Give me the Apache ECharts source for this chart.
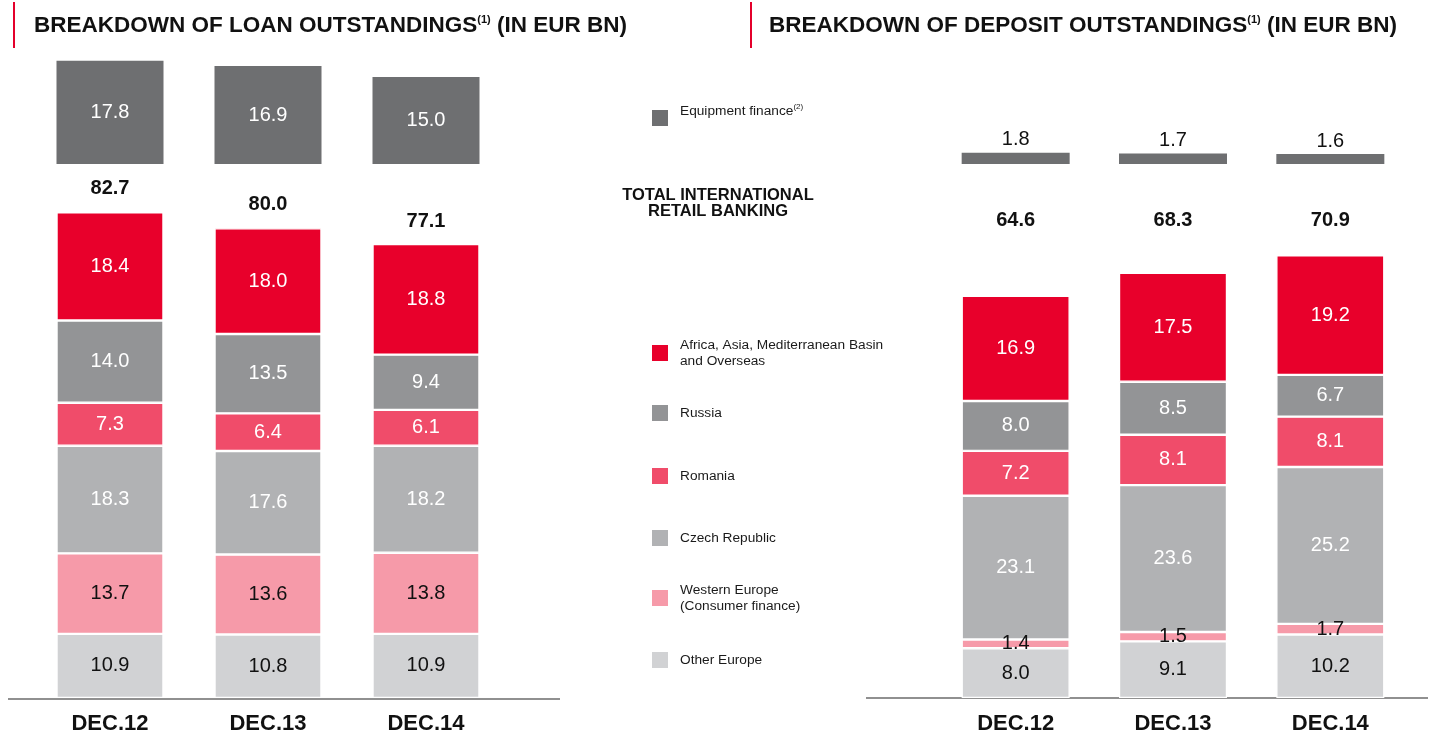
<!DOCTYPE html>
<html>
<head>
<meta charset="utf-8">
<title>Loan and deposit outstandings</title>
<script src="https://cdn.jsdelivr.net/npm/echarts@6/dist/echarts.min.js"></script>
<style>
  html, body { margin: 0; padding: 0; background: #fff; }
  #chart { width: 1436px; height: 735px; }
</style>
</head>
<body>
<div id="chart"></div>
<script>
// data (EUR bn)
const years = ['DEC.12', 'DEC.13', 'DEC.14']

const loanOtherEurope = [10.9, 10.8, 10.9]
const loanWesternEurope = [13.7, 13.6, 13.8]
const loanCzech = [18.3, 17.6, 18.2]
const loanRomania = [7.3, 6.4, 6.1]
const loanRussia = [14.0, 13.5, 9.4]
const loanAfrica = [18.4, 18.0, 18.8]
const loanTotal = [82.7, 80.0, 77.1]
const loanEquipment = [17.8, 16.9, 15.0]

const depOtherEurope = [8.0, 9.1, 10.2]
const depWesternEurope = [1.4, 1.5, 1.7]
const depCzech = [23.1, 23.6, 25.2]
const depRomania = [7.2, 8.1, 8.1]
const depRussia = [8.0, 8.5, 6.7]
const depAfrica = [16.9, 17.5, 19.2]
const depTotal = [64.6, 68.3, 70.9]
const depEquipment = [1.8, 1.7, 1.6]

// series names / colours
const NAME_EF = 'Equipment finance'
const NAME_AF = 'Africa, Asia, Mediterranean Basin\nand Overseas'
const NAME_RU = 'Russia'
const NAME_RO = 'Romania'
const NAME_CZ = 'Czech Republic'
const NAME_WE = 'Western Europe\n(Consumer finance)'
const NAME_OE = 'Other Europe'

const colors = {
  [NAME_EF]: '#6e6f71',
  [NAME_AF]: '#e8002b',
  [NAME_RU]: '#939496',
  [NAME_RO]: '#f04c6a',
  [NAME_CZ]: '#b1b2b4',
  [NAME_WE]: '#f69aa9',
  [NAME_OE]: '#d1d2d4'
}
const labelDark = [NAME_WE, NAME_OE]

const FONT = 'Liberation Sans, Arial, sans-serif'

const chart = echarts.init(document.getElementById('chart'))

// one stacked segment
const stackSeries = (name, data, grid, stack, width) => ({
  name,
  type: 'bar',
  stack,
  xAxisIndex: grid,
  yAxisIndex: grid,
  barWidth: width,
  data,
  itemStyle: { color: colors[name], borderColor: '#fff', borderWidth: 1.2 },
  label: {
    show: true,
    position: 'inside',
    fontSize: 20,
    color: labelDark.includes(name) ? '#111' : '#fff',
    formatter: p => p.value.toFixed(1)
  },
  emphasis: { disabled: true }
})

// invisible bar of the printed total, only for its label
const totalSeries = (data, grid, distance) => ({
  name: 'total',
  type: 'bar',
  xAxisIndex: grid,
  yAxisIndex: grid,
  barWidth: 107,
  barGap: '-100%',
  z: 1,
  silent: true,
  data,
  itemStyle: { color: 'rgba(0,0,0,0)' },
  label: {
    show: true,
    position: 'top',
    distance,
    fontSize: 20,
    fontWeight: 'bold',
    color: '#111',
    formatter: p => p.value.toFixed(1)
  }
})

const grids = [
  { left: 31, right: 931, top: 48, bottom: 571 },   // loans - equipment finance
  { left: 31, right: 931, top: 110, bottom: 36 },   // loans - retail banking
  { left: 937, right: 27, top: 102, bottom: 571 },  // deposits - equipment finance
  { left: 937, right: 27, top: 200, bottom: 37 }    // deposits - retail banking
]
const yMax = [20, 100, 10, 80]

const xAxes = grids.map((g, i) => ({
  type: 'category',
  gridIndex: i,
  data: years,
  axisLine: { show: false },
  axisTick: { show: false },
  axisLabel: {
    show: i === 1 || i === 3,
    margin: 15,
    fontSize: 22,
    fontWeight: 'bold',
    color: '#111'
  }
}))
// deposit totals sit on one line in the original: a top category axis
xAxes.push({
  type: 'category',
  gridIndex: 3,
  position: 'top',
  offset: -30,
  data: depTotal.map(v => v.toFixed(1)),
  axisLine: { show: false },
  axisTick: { show: false },
  axisLabel: { margin: 0, fontSize: 20, fontWeight: 'bold', color: '#111' }
})

const yAxes = grids.map((g, i) => ({
  type: 'value',
  gridIndex: i,
  min: 0,
  max: yMax[i],
  show: false,
  splitLine: { show: false }
}))

const series = [
  // loans
  {
    ...stackSeries(NAME_EF, loanEquipment, 0, 'loanEF', 107),
    label: { show: true, position: 'inside', fontSize: 20, color: '#fff', formatter: p => p.value.toFixed(1) },
    itemStyle: { color: colors[NAME_EF] }
  },
  stackSeries(NAME_OE, loanOtherEurope, 1, 'loan', 107),
  stackSeries(NAME_WE, loanWesternEurope, 1, 'loan', 107),
  stackSeries(NAME_CZ, loanCzech, 1, 'loan', 107),
  stackSeries(NAME_RO, loanRomania, 1, 'loan', 107),
  stackSeries(NAME_RU, loanRussia, 1, 'loan', 107),
  stackSeries(NAME_AF, loanAfrica, 1, 'loan', 107),
  totalSeries(loanTotal, 1, 13),
  // deposits
  {
    ...stackSeries(NAME_EF, depEquipment, 2, 'depEF', 108),
    label: { show: true, position: 'top', distance: 3, fontSize: 20, color: '#111', formatter: p => p.value.toFixed(1) },
    itemStyle: { color: colors[NAME_EF] }
  },
  stackSeries(NAME_OE, depOtherEurope, 3, 'dep', 108),
  stackSeries(NAME_WE, depWesternEurope, 3, 'dep', 108),
  stackSeries(NAME_CZ, depCzech, 3, 'dep', 108),
  stackSeries(NAME_RO, depRomania, 3, 'dep', 108),
  stackSeries(NAME_RU, depRussia, 3, 'dep', 108),
  stackSeries(NAME_AF, depAfrica, 3, 'dep', 108)
]

// legend, one block per item so the spacing can follow the original
const legendItems = [
  { name: NAME_EF, top: 98, padding: [0, 0, 14, 7] },
  { name: NAME_AF, top: 332 },
  { name: NAME_RU, top: 400 },
  { name: NAME_RO, top: 463 },
  { name: NAME_CZ, top: 525 },
  { name: NAME_WE, top: 577 },
  { name: NAME_OE, top: 647 }
]
const legends = legendItems.map(it => ({
  data: [it.name],
  left: 647,
  top: it.top,
  orient: 'vertical',
  icon: 'rect',
  itemWidth: 16,
  itemHeight: 16,
  itemStyle: { borderWidth: 0 },
  selectedMode: false,
  formatter: n => (n === NAME_EF ? n + '{sup|(2)}' : n),
  textStyle: {
    fontSize: 13.7,
    lineHeight: 16,
    color: '#1a1a1a',
    padding: it.padding || [0, 0, 0, 7],
    rich: { sup: { fontSize: 8, verticalAlign: 'top', lineHeight: 12 } }
  }
}))

const titleStyle = {
  fontSize: 22.5,
  fontWeight: 'bold',
  color: '#111',
  rich: { sup: { fontSize: 11, fontWeight: 'bold', color: '#111', verticalAlign: 'top', lineHeight: 14 } }
}

chart.setOption({
  animation: false,
  textStyle: { fontFamily: FONT },
  title: [
    { text: 'BREAKDOWN OF LOAN OUTSTANDINGS{sup|(1)} (IN EUR BN)', left: 29, top: 9, textStyle: titleStyle },
    { text: 'BREAKDOWN OF DEPOSIT OUTSTANDINGS{sup|(1)} (IN EUR BN)', left: 764, top: 9, textStyle: titleStyle }
  ],
  legend: legends,
  grid: grids,
  xAxis: xAxes,
  yAxis: yAxes,
  series,
  graphic: [
    { type: 'rect', shape: { x: 13, y: 2, width: 2, height: 46 }, style: { fill: '#e4002b' } },
    { type: 'rect', shape: { x: 750, y: 2, width: 2, height: 46 }, style: { fill: '#e4002b' } },
    { type: 'line', shape: { x1: 8, y1: 699, x2: 560, y2: 699 }, style: { stroke: '#6b6b6b', lineWidth: 1.5 } },
    { type: 'line', shape: { x1: 866, y1: 698, x2: 1428, y2: 698 }, style: { stroke: '#6b6b6b', lineWidth: 1.5 } },
    {
      type: 'text',
      x: 718,
      y: 187,
      style: {
        text: 'TOTAL INTERNATIONAL\nRETAIL BANKING',
        font: 'bold 16.5px ' + FONT,
        lineHeight: 16,
        textAlign: 'center',
        fill: '#111'
      }
    }
  ]
})

window.addEventListener('resize', () => chart.resize())
</script>
</body>
</html>
